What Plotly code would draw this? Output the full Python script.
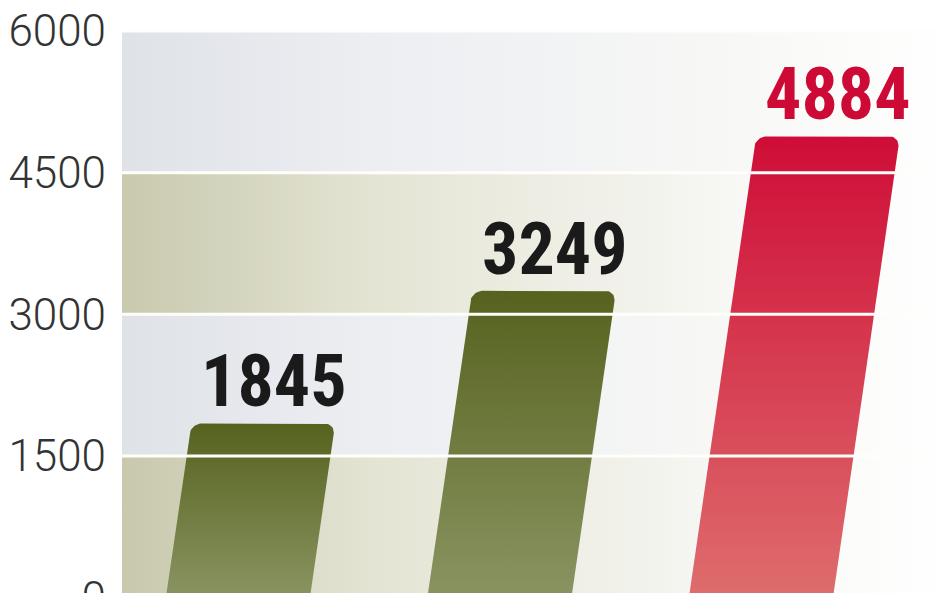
import plotly.graph_objects as go
import numpy as np

# data
values = [1845, 3249, 4884]
bar_top_colors = ['#56621e', '#56621e', '#cf0d37']
bar_bottom_colors = ['#8a9462', '#8a9462', '#de6d6d']
label_colors = ['#1a1a1a', '#1a1a1a', '#cc0a35']
tick_vals = [0, 1500, 3000, 4500, 6000]
tick_text = ['0', '1500', '3000', '4500', '6000']
band_left_colors = ['#c7c8ac', '#dfe2e7', '#c8c9ad', '#dfe2e7']
band_mid_colors = ['#e4e4d4', '#eceef2', '#e4e4d4', '#eceef2']

# page has an 8px body margin, so the figure is laid out shifted by 8px
x_range = [-0.443, 2.746]
y_range = [-34, 6243]
slant = 5.24e-5      # x units per y unit
half_w = 0.2755
rx, ry = 0.04, 110   # corner radius in data units

fig = go.Figure()

# background bands, horizontal fade to white
for j in range(len(tick_vals) - 1):
    y0, y1 = tick_vals[j], tick_vals[j + 1]
    fig.add_trace(go.Scatter(
        x=[x_range[0], x_range[1], x_range[1], x_range[0], x_range[0]],
        y=[y0, y0, y1, y1, y0],
        mode='lines', line=dict(width=0), fill='toself',
        fillgradient=dict(type='horizontal', start=x_range[0], stop=x_range[1],
                          colorscale=[[0, band_left_colors[j]], [0.3, band_mid_colors[j]],
                                      [0.75, '#f8f8f6'], [1, '#ffffff']]),
        hoverinfo='skip', showlegend=False))

# slanted bars with rounded top corners
t_left = np.linspace(np.pi, np.pi / 2, 12)
t_right = np.linspace(np.pi / 2, 0, 12)
for i, v in enumerate(values):
    base = y_range[0]
    xs = [i - half_w + slant * base]
    ys = [base]
    cl = i - half_w + rx + slant * (v - ry)
    xs += list(cl + rx * np.cos(t_left) + slant * ry * np.sin(t_left))
    ys += list(v - ry + ry * np.sin(t_left))
    cr = i + half_w - rx + slant * (v - ry)
    xs += list(cr + rx * np.cos(t_right) + slant * ry * np.sin(t_right))
    ys += list(v - ry + ry * np.sin(t_right))
    xs += [i + half_w + slant * base, i - half_w + slant * base]
    ys += [base, base]
    fig.add_trace(go.Scatter(
        x=xs, y=ys, mode='lines', line=dict(width=0), fill='toself',
        fillgradient=dict(type='vertical', start=0, stop=v,
                          colorscale=[[0, bar_bottom_colors[i]], [1, bar_top_colors[i]]]),
        hoverinfo='skip', showlegend=False))
    fig.add_annotation(x=i + slant * (v + 300) + 0.025, y=v, xref='x', yref='y',
                       text=f'<b>{v}</b>', showarrow=False, yanchor='bottom', yshift=-3,
                       font=dict(family='Roboto Condensed, Liberation Sans Narrow, Roboto, sans-serif',
                                 size=72, color=label_colors[i], weight=700))

# white separator lines on top of everything
for tv in tick_vals[1:]:
    fig.add_shape(type='line', xref='paper', yref='y', x0=0, x1=1, y0=tv, y1=tv,
                  line=dict(color='#fffefa', width=3), layer='above')

fig.update_layout(
    width=948, height=593,
    margin=dict(l=114, r=0, t=0, b=0),
    paper_bgcolor='white', plot_bgcolor='white',
    xaxis=dict(range=x_range, visible=False, fixedrange=True, automargin=False),
    yaxis=dict(range=y_range, tickvals=tick_vals, ticktext=tick_text,
               showgrid=False, zeroline=False, showline=False, ticks='',
               ticklabelstandoff=15, automargin=False, ticklabeloverflow='allow',
               tickfont=dict(family='Roboto', size=44, color='#333333', weight=300)),
)

fig.write_html("out.html")
